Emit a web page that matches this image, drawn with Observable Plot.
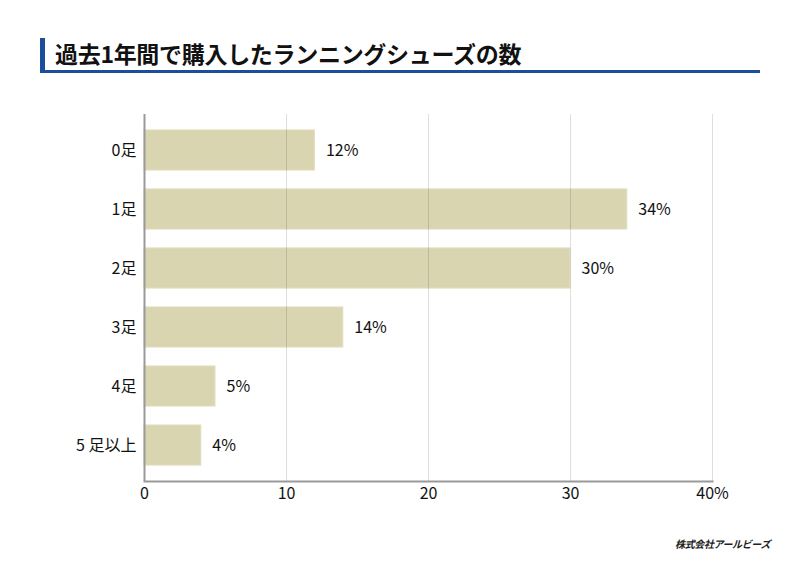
<!DOCTYPE html>
<html><head><meta charset="utf-8">
<script src="https://cdn.jsdelivr.net/npm/d3@7"></script>
<script src="https://cdn.jsdelivr.net/npm/@observablehq/plot@0.6"></script>
<style>
html,body{margin:0;padding:0;background:#fff;}
#wrap{position:relative;width:800px;height:566px;overflow:hidden;font-family:"Noto Sans CJK JP","Noto Sans",sans-serif;}
#title{position:absolute;left:40px;top:38px;width:715px;height:32px;border-left:5px solid #1b4e9b;border-bottom:3px solid #1b4e9b;box-sizing:content-box;}
#title span{position:absolute;left:10px;top:0px;font-size:23px;font-weight:700;color:#111;line-height:30px;letter-spacing:-0.3px;}
#credit{position:absolute;right:30px;top:536px;font-size:10px;font-weight:700;font-style:italic;color:#222;letter-spacing:-0.4px;}
#chart{position:absolute;left:0;top:0;}
</style></head>
<body><div id="wrap"><div id="chart"></div><div id="title"><span>過去1年間で購入したランニングシューズの数</span></div><div id="credit">株式会社アールビーズ</div></div>
<script>
const categories = ["0足","1足","2足","3足","4足","5 足以上"];
const values = [12, 34, 30, 14, 5, 4];
const xTicks = [0, 10, 20, 30, 40];
const data = categories.map((c, i) => ({cat: c, v: values[i]}));

const plot = Plot.plot({
  width: 800, height: 566,
  marginLeft: 144, marginRight: 88, marginTop: 114, marginBottom: 85,
  style: {fontFamily: '"Noto Sans CJK JP","Noto Sans",sans-serif', fontSize: "16px", color: "#111", background: "transparent"},
  x: {domain: [0, 40], ticks: xTicks, tickFormat: d => d === 40 ? "40%" : String(d), tickSize: 0, tickPadding: 6, label: null},
  y: {domain: categories, paddingInner: 0.32, paddingOuter: 0.27, round: false, tickSize: 0, tickPadding: 8, label: null},
  marks: [
    Plot.barX(data, {x: "v", y: "cat", fill: "#dad5b1", stroke: "#e2ddbc", strokeWidth: 1}),
    Plot.ruleX(xTicks.filter(d => d > 0), {stroke: "#000", strokeOpacity: 0.13, strokeWidth: 1}),
    Plot.ruleX([0], {stroke: "#9a9a9a", strokeWidth: 2}),
    Plot.frame({anchor: "bottom", stroke: "#9a9a9a", strokeWidth: 2}),
    Plot.text(data, {x: "v", y: "cat", text: d => d.v + "%", dx: 11, textAnchor: "start", fontSize: 16, fill: "#111"})
  ]
});
document.getElementById("chart").appendChild(plot);
</script></body></html>
